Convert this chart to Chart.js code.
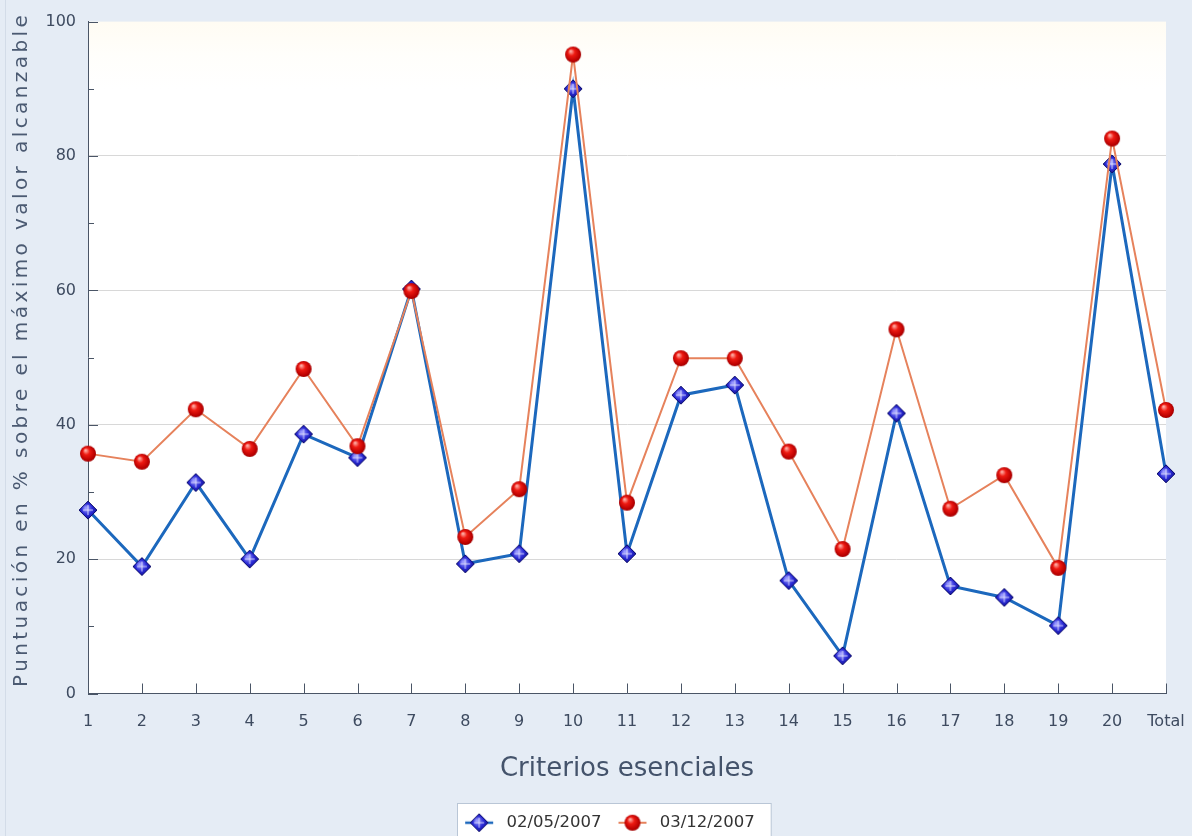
<!DOCTYPE html>
<html>
<head>
<meta charset="utf-8">
<script src="https://cdn.jsdelivr.net/npm/chart.js@4/dist/chart.umd.min.js"></script>
<style>
  html, body { margin: 0; padding: 0; background: #e5ecf5; }
  #wrap { width: 1192px; height: 836px; position: relative; }
  canvas { display: block; }
</style>
</head>
<body>
<div id="wrap"><canvas id="c" width="1192" height="836"></canvas></div>
<script>
// ---- data ----
const categories = ['1','2','3','4','5','6','7','8','9','10','11','12','13','14','15','16','17','18','19','20','Total'];
const seriesNames = ['02/05/2007', '03/12/2007'];
const values0205 = [27.3, 18.9, 31.4, 20.0, 38.6, 35.1, 60.2, 19.3, 20.8, 90.0, 20.8, 44.4, 45.9, 16.8, 5.6, 41.7, 16.0, 14.3, 10.1, 78.8, 32.7];
const values0312 = [35.7, 34.5, 42.3, 36.4, 48.3, 36.8, 59.9, 23.3, 30.4, 95.1, 28.4, 49.9, 49.9, 36.0, 21.5, 54.2, 27.5, 32.5, 18.7, 82.6, 42.2];
const yTickValues = [0, 20, 40, 60, 80, 100];
const xTitle = 'Criterios esenciales';
const yTitle = 'Puntuación en % sobre el máximo valor alcanzable';

// ---- marker images ----
function diamondMarker() {
  const s = 20, c = document.createElement('canvas');
  c.width = s; c.height = s;
  const g = c.getContext('2d');
  const grad = g.createRadialGradient(8, 8, 1, 10, 10, 10);
  grad.addColorStop(0, '#9a9aff');
  grad.addColorStop(0.5, '#2a2ad6');
  grad.addColorStop(1, '#12128c');
  g.beginPath();
  g.moveTo(10, 1); g.lineTo(19, 10); g.lineTo(10, 19); g.lineTo(1, 10); g.closePath();
  g.fillStyle = grad; g.fill();
  g.strokeStyle = '#0c0c6c'; g.lineWidth = 1; g.stroke();
  g.strokeStyle = 'rgba(235,235,255,0.85)'; g.lineWidth = 1;
  g.beginPath(); g.moveTo(10, 5); g.lineTo(10, 15); g.moveTo(5, 10); g.lineTo(15, 10); g.stroke();
  return c;
}
function sphereMarker() {
  const s = 18, c = document.createElement('canvas');
  c.width = s; c.height = s;
  const g = c.getContext('2d');
  const grad = g.createRadialGradient(6.5, 5.5, 0.5, 9, 9, 9);
  grad.addColorStop(0, '#ffb0a8');
  grad.addColorStop(0.35, '#ee1a12');
  grad.addColorStop(0.8, '#b80000');
  grad.addColorStop(1, '#8a0000');
  g.beginPath(); g.arc(9, 9, 8, 0, Math.PI * 2);
  g.fillStyle = grad; g.fill();
  return c;
}
const blueMarker = diamondMarker();
const redMarker = sphereMarker();
function legendImage(marker, color, lw) {
  const w = 30, h = 20, c = document.createElement('canvas');
  c.width = w; c.height = h;
  const g = c.getContext('2d');
  g.strokeStyle = color; g.lineWidth = lw;
  g.beginPath(); g.moveTo(1, h / 2); g.lineTo(w - 1, h / 2); g.stroke();
  g.drawImage(marker, (w - marker.width) / 2, (h - marker.height) / 2);
  return c;
}
const blueColor = '#1c68bd';
const redColor = '#e6825c';
const legendImgs = [legendImage(blueMarker, blueColor, 2.5), legendImage(redMarker, redColor, 2)];

// ---- plugins ----
const plotBg = {
  id: 'plotBg',
  beforeDraw(chart) {
    const {ctx, chartArea: a} = chart;
    ctx.save();
    const gr = ctx.createLinearGradient(0, a.top, 0, a.bottom);
    gr.addColorStop(0, '#fffcf3');
    gr.addColorStop(0.05, '#fffefb');
    gr.addColorStop(0.1, '#ffffff');
    gr.addColorStop(1, '#ffffff');
    ctx.fillStyle = gr;
    ctx.fillRect(a.left, a.top, a.right - a.left, a.bottom - a.top);
    ctx.strokeStyle = '#d3dce8';
    ctx.lineWidth = 1;
    ctx.beginPath(); ctx.moveTo(5.5, 0); ctx.lineTo(5.5, chart.height); ctx.stroke();
    ctx.restore();
  }
};
const innerTicks = {
  id: 'innerTicks',
  afterDraw(chart) {
    const {ctx} = chart;
    const xs = chart.scales.x, ys = chart.scales.y;
    ctx.save();
    ctx.strokeStyle = '#4a5566';
    ctx.lineWidth = 1;
    ctx.beginPath();
    ys.ticks.forEach(t => {
      const y = Math.round(ys.getPixelForValue(t.value)) + 0.5;
      const len = (t.value % 20 === 0) ? 10 : 6;
      ctx.moveTo(xs.left, y); ctx.lineTo(xs.left + len, y);
    });
    categories.forEach((c, i) => {
      const x = Math.round(xs.getPixelForValue(i)) + 0.5;
      ctx.moveTo(x, ys.bottom); ctx.lineTo(x, ys.bottom - 10);
    });
    ctx.stroke();
    // y title with letter spacing
    ctx.translate(22, 351);
    ctx.rotate(-Math.PI / 2);
    ctx.font = '20px "DejaVu Sans"';
    const natural = ctx.measureText(yTitle).width;
    const sp = (672 - natural) / (yTitle.length - 1);
    ctx.letterSpacing = sp.toFixed(2) + 'px';
    ctx.fillStyle = '#4b5a72';
    ctx.textAlign = 'left';
    ctx.textBaseline = 'middle';
    ctx.fillText(yTitle, -336, 0);
    ctx.restore();
  }
};
const legendShift = { dx: 22, dy: 5 };
const legendBox = {
  id: 'legendBox',
  afterLayout(chart) {
    const lg = chart.legend;
    if (!lg) return;
    lg.left += legendShift.dx; lg.right += legendShift.dx;
    lg.top += legendShift.dy; lg.bottom += legendShift.dy;
    (lg.legendHitBoxes || []).forEach(b => { b.left += legendShift.dx; b.top += legendShift.dy; });
  },
  beforeDraw(chart) {
    const lg = chart.legend;
    if (!lg || !lg.legendHitBoxes || !lg.legendHitBoxes.length) return;
    const hb = lg.legendHitBoxes;
    const l = Math.min(...hb.map(b => b.left)) - 3;
    const r = Math.max(...hb.map(b => b.left + b.width)) + 16;
    const t = Math.min(...hb.map(b => b.top)) - 17;
    const {ctx} = chart;
    ctx.save();
    ctx.fillStyle = '#ffffff';
    ctx.strokeStyle = '#b9c6d6';
    ctx.lineWidth = 1;
    ctx.fillRect(Math.round(l) + 0.5, Math.round(t) + 0.5, r - l, chart.height);
    ctx.strokeRect(Math.round(l) + 0.5, Math.round(t) + 0.5, r - l, chart.height);
    ctx.restore();
  }
};

new Chart(document.getElementById('c'), {
  type: 'line',
  data: {
    labels: categories,
    datasets: [
      {
        label: seriesNames[0],
        data: values0205,
        borderColor: blueColor,
        borderWidth: 3,
        pointStyle: blueMarker,
        pointRadius: 9,
        pointHoverRadius: 9,
        tension: 0,
        order: 1
      },
      {
        label: seriesNames[1],
        data: values0312,
        borderColor: redColor,
        borderWidth: 2,
        pointStyle: redMarker,
        pointRadius: 8,
        pointHoverRadius: 8,
        tension: 0,
        order: 0
      }
    ]
  },
  options: {
    responsive: false,
    animation: false,
    events: [],
    layout: { padding: { left: 5, right: 26, top: 20, bottom: 0 } },
    plugins: {
      tooltip: { enabled: false },
      legend: {
        position: 'bottom',
        labels: {
          usePointStyle: true,
          pointStyleWidth: 38,
          padding: 12,
          color: '#333333',
          font: { family: '"DejaVu Sans"', size: 16.5 },
          generateLabels(chart) {
            return chart.data.datasets.map((ds, i) => ({
              text: ds.label,
              pointStyle: legendImgs[i],
              datasetIndex: i,
              fillStyle: ds.borderColor,
              strokeStyle: ds.borderColor,
              lineWidth: 0,
              hidden: false,
              fontColor: '#333333'
            }));
          }
        }
      }
    },
    scales: {
      x: {
        type: 'category',
        offset: false,
        grid: { display: false, drawTicks: false },
        border: { display: true, color: '#4a5566', width: 1 },
        ticks: {
          padding: 19,
          color: '#3e4b60',
          font: { family: '"DejaVu Sans"', size: 16 },
          maxRotation: 0,
          autoSkip: false
        },
        title: {
          display: true,
          text: xTitle,
          color: '#44536b',
          font: { family: '"DejaVu Sans"', size: 26 },
          padding: { top: 0, bottom: 13 }
        },
        afterFit(scale) { scale.height = 104; scale.paddingLeft = 0; scale.paddingRight = 0; }
      },
      y: {
        min: 0,
        max: 100,
        grid: {
          drawTicks: false,
          color: (ctx) => (ctx.tick && ctx.tick.value % 20 === 0 && ctx.tick.value !== 0 && ctx.tick.value !== 100) ? '#d8d8d8' : 'rgba(0,0,0,0)',
          lineWidth: 1
        },
        border: { display: true, color: '#4a5566', width: 1 },
        ticks: {
          stepSize: 10,
          padding: 12,
          color: '#3e4b60',
          font: { family: '"DejaVu Sans"', size: 16 },
          callback: (v) => yTickValues.includes(v) ? String(v) : ''
        },
        afterFit(scale) { scale.width = 83; }
      }
    }
  },
  plugins: [plotBg, legendBox, innerTicks]
});
</script>
</body>
</html>
